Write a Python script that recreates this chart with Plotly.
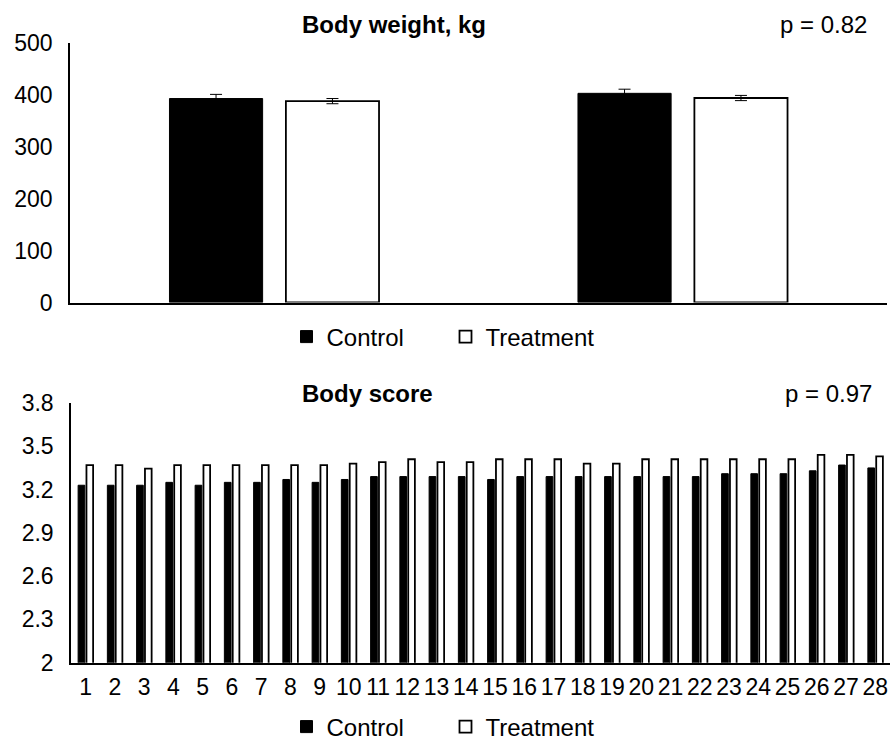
import plotly.graph_objects as go

# ---------------- data ----------------
bw_periods = ["Period 1", "Period 2"]
bw_control = [393, 403]
bw_control_se = [8, 8]
bw_treatment = [388, 394]
bw_treatment_se = [5, 5]

bs_days = [str(d) for d in range(1, 29)]
bs_control = [3.23, 3.23, 3.23, 3.25, 3.23, 3.25, 3.25, 3.27, 3.25, 3.27,
              3.29, 3.29, 3.29, 3.29, 3.27, 3.29, 3.29, 3.29, 3.29, 3.29,
              3.29, 3.29, 3.31, 3.31, 3.31, 3.33, 3.37, 3.35]
bs_treatment = [3.37, 3.37, 3.345, 3.37, 3.37, 3.37, 3.37, 3.37, 3.37, 3.38,
                3.39, 3.41, 3.39, 3.39, 3.41, 3.41, 3.41, 3.38, 3.38, 3.41,
                3.41, 3.41, 3.41, 3.41, 3.41, 3.44, 3.44, 3.43]

bw_yticks = [0, 100, 200, 300, 400, 500]
bs_yticks = [2, 2.3, 2.6, 2.9, 3.2, 3.5, 3.8]
bs_yticklabels = ["2", "2.3", "2.6", "2.9", "3.2", "3.5", "3.8"]

FONT = "Liberation Sans, Arial, sans-serif"
W, H = 891, 741

fig = go.Figure()

# top chart
fig.add_trace(go.Bar(
    x=bw_periods, y=bw_control, name="Control",
    marker=dict(color="black", line=dict(color="black", width=1)),
    error_y=dict(type="data", array=bw_control_se, color="black", thickness=1, width=6),
    xaxis="x", yaxis="y", legend="legend", offsetgroup="c"))
fig.add_trace(go.Bar(
    x=bw_periods, y=bw_treatment, name="Treatment",
    marker=dict(color="white", line=dict(color="black", width=1.8)),
    error_y=dict(type="data", array=bw_treatment_se, color="black", thickness=1, width=6),
    xaxis="x", yaxis="y", legend="legend", offsetgroup="t"))

# bottom chart
fig.add_trace(go.Bar(
    x=bs_days, y=bs_control, name="Control",
    marker=dict(color="black", line=dict(color="black", width=1)),
    xaxis="x2", yaxis="y2", legend="legend2", offsetgroup="c2"))
fig.add_trace(go.Bar(
    x=bs_days, y=bs_treatment, name="Treatment",
    marker=dict(color="white", line=dict(color="black", width=1.8)),
    xaxis="x2", yaxis="y2", legend="legend2", offsetgroup="t2"))

def py(pix):
    return 1 - pix / H

def px(pix):
    return pix / W

axis_common = dict(showline=True, linecolor="black", linewidth=1.5, showgrid=False,
                   zeroline=False, ticks="", automargin=False,
                   tickfont=dict(size=23, color="black", family=FONT))

legend_common = dict(orientation="h", x=0.5, xanchor="center",
                     font=dict(size=24, family=FONT, color="black"), entrywidth=114,
                     bgcolor="rgba(0,0,0,0)")

fig.update_layout(
    width=W, height=H,
    margin=dict(l=0, r=0, t=0, b=0, autoexpand=False),
    paper_bgcolor="white", plot_bgcolor="white",
    font=dict(family=FONT, color="black", size=23),
    barmode="group", bargap=0.43, bargroupgap=0.2,
    xaxis=dict(domain=[px(70), px(887)], anchor="y", showticklabels=False, **axis_common),
    yaxis=dict(domain=[py(302.5), py(43)], anchor="x", range=[0, 500],
               tickvals=bw_yticks, ticklabelstandoff=11, **axis_common),
    xaxis2=dict(domain=[px(71), px(890)], anchor="y2", ticklabelstandoff=3, **axis_common),
    yaxis2=dict(domain=[py(662.7), py(403)], anchor="x2", range=[2, 3.8],
                tickvals=bs_yticks, ticktext=bs_yticklabels, ticklabelstandoff=11, **axis_common),
    legend=dict(y=py(337), yanchor="middle", **legend_common),
    legend2=dict(y=py(727), yanchor="middle", **legend_common),
    annotations=[
        dict(text="<b>Body weight, kg</b>", x=px(300), y=py(25), xref="paper", yref="paper",
             xanchor="left", yanchor="middle", showarrow=False, font=dict(size=24)),
        dict(text="p = 0.82", x=px(778), y=py(25), xref="paper", yref="paper",
             xanchor="left", yanchor="middle", showarrow=False, font=dict(size=24)),
        dict(text="<b>Body score</b>", x=px(300), y=py(393), xref="paper", yref="paper",
             xanchor="left", yanchor="middle", showarrow=False, font=dict(size=24)),
        dict(text="p = 0.97", x=px(783), y=py(393), xref="paper", yref="paper",
             xanchor="left", yanchor="middle", showarrow=False, font=dict(size=24)),
    ],
)

fig.write_html("out.html", config={"displayModeBar": False},
               post_script="document.body.style.margin='0';document.body.style.overflow='hidden';")
